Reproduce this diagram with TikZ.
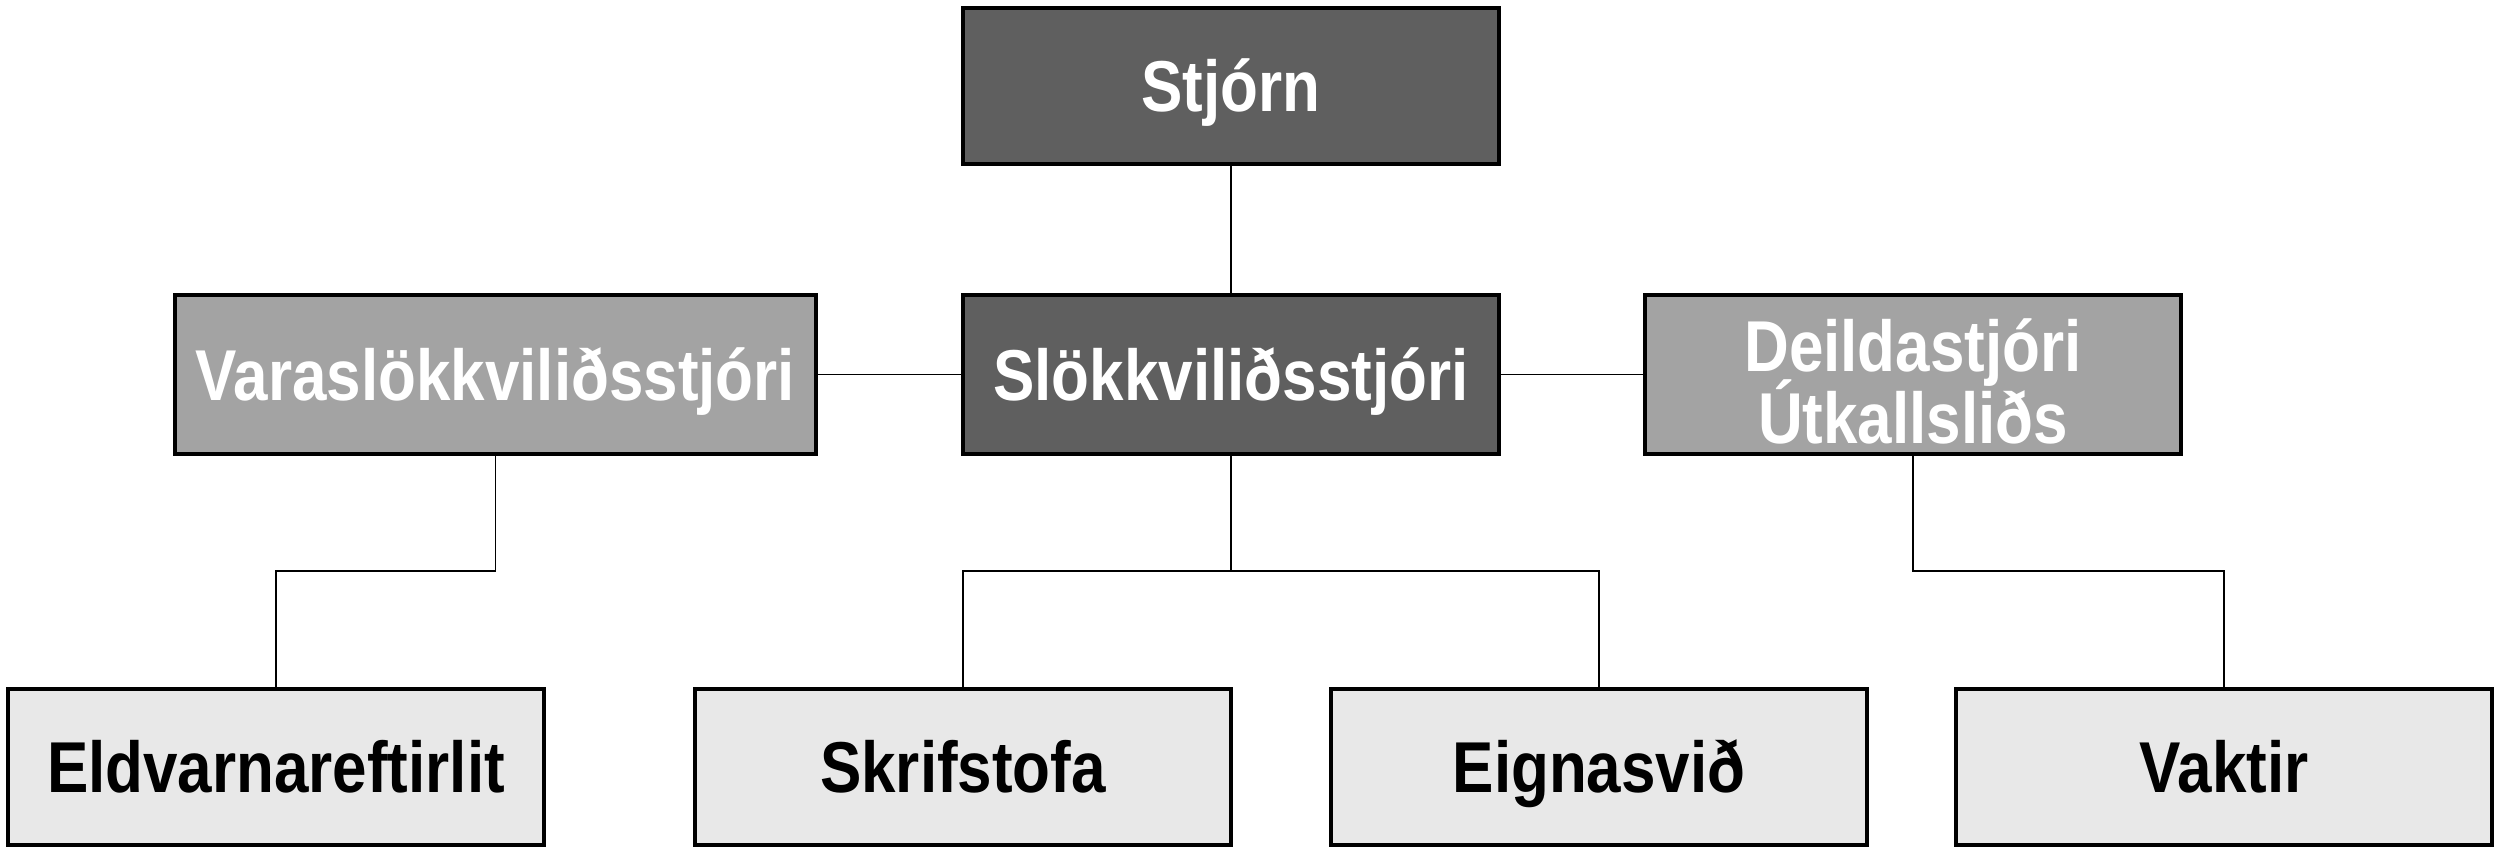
\documentclass[tikz,border=0pt]{standalone}
\usepackage{fontspec}
\setmainfont{Liberation Sans}[FakeStretch=0.86]
\usepackage{tikz}
\usetikzlibrary{arrows.meta}
\definecolor{darkbox}{HTML}{5F5F5F}
\definecolor{midbox}{HTML}{A3A3A3}
\definecolor{lightbox}{HTML}{E8E8E8}
\begin{document}
\begin{tikzpicture}[every node/.style={font=\fontsize{20.5}{20}\selectfont\bfseries},
  unit/.style={draw=black, line width=1.2pt, minimum width=5.36cm, minimum height=1.56cm, align=center, inner sep=0pt},
  oneline/.style={text height=14.7pt, text depth=0pt},
  topunit/.style={unit, oneline, fill=darkbox, text=white},
  subunit/.style={unit, fill=midbox, text=white},
  lowunit/.style={unit, oneline, fill=lightbox, text=black},
  link/.style={line width=0.55pt}]
\useasboundingbox (0,0) rectangle (25,8.56);
% 1. efsta lag
\node[topunit] (stjorn) at (12.31,7.70) {Stjórn};
% 2. miðlag
\node[topunit, minimum height=1.59cm] (slokkvi) at (12.31,4.815) {Slökkviliðsstjóri};
\node[subunit, oneline, minimum width=6.41cm, minimum height=1.59cm] (vara) at (4.955,4.815) {Varaslökkviliðsstjóri};
\node[subunit, minimum height=1.59cm] (deild) at (19.13,4.815) {\rule{0pt}{19pt}Deildastjóri\\[-3pt]Útkallsliðs};
% 3. neðsta lag
\node[lowunit] (eld) at (2.76,0.89) {Eldvarnareftirlit};
\node[lowunit] (skrif) at (9.63,0.89) {Skrifstofa};
\node[lowunit] (eign) at (15.99,0.89) {Eignasvið};
\node[lowunit] (vakt) at (22.24,0.89) {Vaktir};
\coordinate (mid) at (0,2.85);
% tengilínur
\draw[link] (stjorn) -- (slokkvi);
\draw[link] (vara) -- (slokkvi);
\draw[link] (slokkvi) -- (deild);
\draw[link] (vara.south) -- (vara.south |- mid) -| (eld.north);
\draw[link] (slokkvi.south) -- (slokkvi.south |- mid) -| (skrif.north);
\draw[link] (slokkvi.south |- mid) -| (eign.north);
\draw[link] (deild.south) -- (deild.south |- mid) -| (vakt.north);
\end{tikzpicture}
\end{document}
